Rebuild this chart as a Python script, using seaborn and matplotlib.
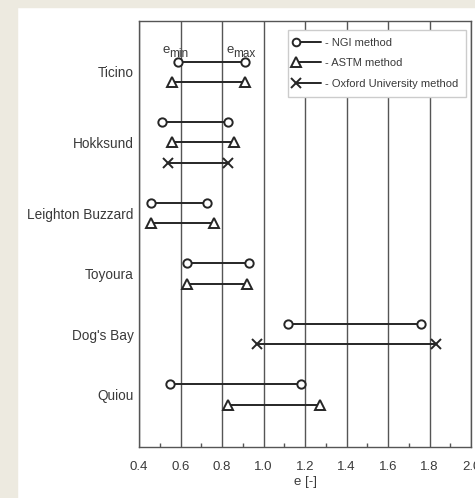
import pandas as pd
import matplotlib
matplotlib.use("Agg")
import matplotlib.pyplot as plt
import seaborn as sns
from matplotlib.lines import Line2D
from matplotlib.patches import Rectangle
from matplotlib.legend_handler import HandlerLine2D
from matplotlib.ticker import MultipleLocator

# Data (void ratio ranges per sand and method)
sands = ["Ticino", "Hokksund", "Leighton Buzzard", "Toyoura", "Dog's Bay", "Quiou"]
methods = ["NGI method", "ASTM method", "Oxford University method"]
ngi_min = [0.59, 0.51, 0.46, 0.63, 1.12, 0.55]
ngi_max = [0.91, 0.83, 0.73, 0.93, 1.76, 1.18]
astm_min = [0.56, 0.56, 0.46, 0.63, None, 0.83]
astm_max = [0.91, 0.86, 0.76, 0.92, None, 1.27]
oxford_min = [None, 0.54, None, None, 0.97, None]
oxford_max = [None, 0.83, None, None, 1.83, None]
x_ticks = [0.4, 0.6, 0.8, 1.0, 1.2, 1.4, 1.6, 1.8, 2.0]

ranges = {
    "NGI method": (ngi_min, ngi_max),
    "ASTM method": (astm_min, astm_max),
    "Oxford University method": (oxford_min, oxford_max),
}
markers = {"NGI method": "o", "ASTM method": "^", "Oxford University method": "x"}
msizes = {"NGI method": 6, "ASTM method": 7.5, "Oxford University method": 7}

# Build long table: one row slot per sand/method, gap of one slot between sands
records = []
centers = []
pos = 2
for i, sand in enumerate(sands):
    first = pos
    for m in methods:
        lo, hi = ranges[m][0][i], ranges[m][1][i]
        if lo is None:
            continue
        records.append({"sand": sand, "method": m, "bound": "min", "e": lo, "row": pos})
        records.append({"sand": sand, "method": m, "bound": "max", "e": hi, "row": pos})
        pos += 1
    centers.append((first + pos - 1) / 2)
    pos += 1
df = pd.DataFrame(records)

sns.set_style("white")
plt.rcParams["font.family"] = ["Liberation Sans", "DejaVu Sans"]

dark = "#262626"
grid_c = "#555555"
txt_c = "#3a3a3a"

fig = plt.figure(figsize=(4.75, 4.98), dpi=100, facecolor="white")
ax = fig.add_axes([139 / 475, 1 - 447 / 498, (471 - 139) / 475, (447 - 21.4) / 498])

# background frame of the page
fig.add_artist(Rectangle((0, 0), 17 / 475, 1, transform=fig.transFigure,
                         color="#edeae0", zorder=-5))
fig.add_artist(Rectangle((0, 1 - 7 / 498), 1, 7 / 498, transform=fig.transFigure,
                         color="#edeae0", zorder=-5))

for m in methods:
    sub = df[df["method"] == m]
    sns.lineplot(data=sub, x="e", y="row", units="row", estimator=None, sort=False,
                 ax=ax, color=dark, lw=1.4, marker=markers[m], ms=msizes[m],
                 markerfacecolor="white", markeredgecolor=dark, markeredgewidth=1.4,
                 legend=False, zorder=3)

ax.set_xlim(0.4, 2.0)
ax.set_ylim(pos + 0.1, 0)
ax.set_xticks(x_ticks)
ax.set_xticklabels([f"{t:.1f}" for t in x_ticks])
ax.xaxis.set_minor_locator(MultipleLocator(0.1))
ax.set_yticks(centers)
ax.set_yticklabels(sands)
ax.set_xlabel("e [-]", fontsize=9.5, color=txt_c, labelpad=2)
ax.set_ylabel("")

ax.grid(axis="x", which="major", color=grid_c, lw=1)
ax.grid(axis="y", visible=False)
ax.tick_params(axis="x", which="major", direction="out", length=8, width=1,
               color=grid_c, labelsize=9.5, labelcolor=txt_c, pad=2)
ax.tick_params(axis="x", which="minor", direction="in", length=3, width=1,
               color=grid_c, bottom=True)
ax.tick_params(axis="y", length=0, labelsize=9.8, labelcolor=txt_c, pad=4)
for s in ax.spines.values():
    s.set_color(grid_c)
    s.set_linewidth(1)

# e_min / e_max annotations above the first NGI range ("e" plus a lowered subscript)
first_row = centers[0] - 0.5
for xv, sub_txt, dx in [(ngi_min[0], "min", -16), (ngi_max[0], "max", -18)]:
    ax.annotate("e", (xv, first_row), xytext=(dx, 12), textcoords="offset pixels",
                ha="left", va="center", fontsize=9.5, color=txt_c)
    ax.annotate(sub_txt, (xv, first_row), xytext=(dx + 6.5, 8), textcoords="offset pixels",
                ha="left", va="center", fontsize=8.5, color=txt_c)


class LeftMarker(HandlerLine2D):
    # marker sits at the left end of the legend line
    def create_artists(self, legend, orig_handle, xdescent, ydescent,
                       width, height, fontsize, trans):
        arts = super().create_artists(legend, orig_handle, xdescent, ydescent,
                                      width, height, fontsize, trans)
        for a in arts:
            a.set_markevery([0])
        return arts


handles = [Line2D([], [], color=dark, lw=1.4, marker=markers[m], ms=msizes[m] - 0.5,
                  mfc="white", mec=dark, mew=1.4) for m in methods]
leg = ax.legend(handles, ["- " + m for m in methods], loc="upper right",
                bbox_to_anchor=(0.985, 0.98), borderaxespad=0, fontsize=8,
                frameon=True, fancybox=False, edgecolor="#cccccc", framealpha=1,
                handlelength=2.2, handletextpad=0.4, labelspacing=0.95,
                borderpad=0.7, handler_map={Line2D: LeftMarker()})
for t in leg.get_texts():
    t.set_color(txt_c)
leg.get_frame().set_linewidth(1)

fig.savefig("out.png", dpi=100, facecolor="white")
